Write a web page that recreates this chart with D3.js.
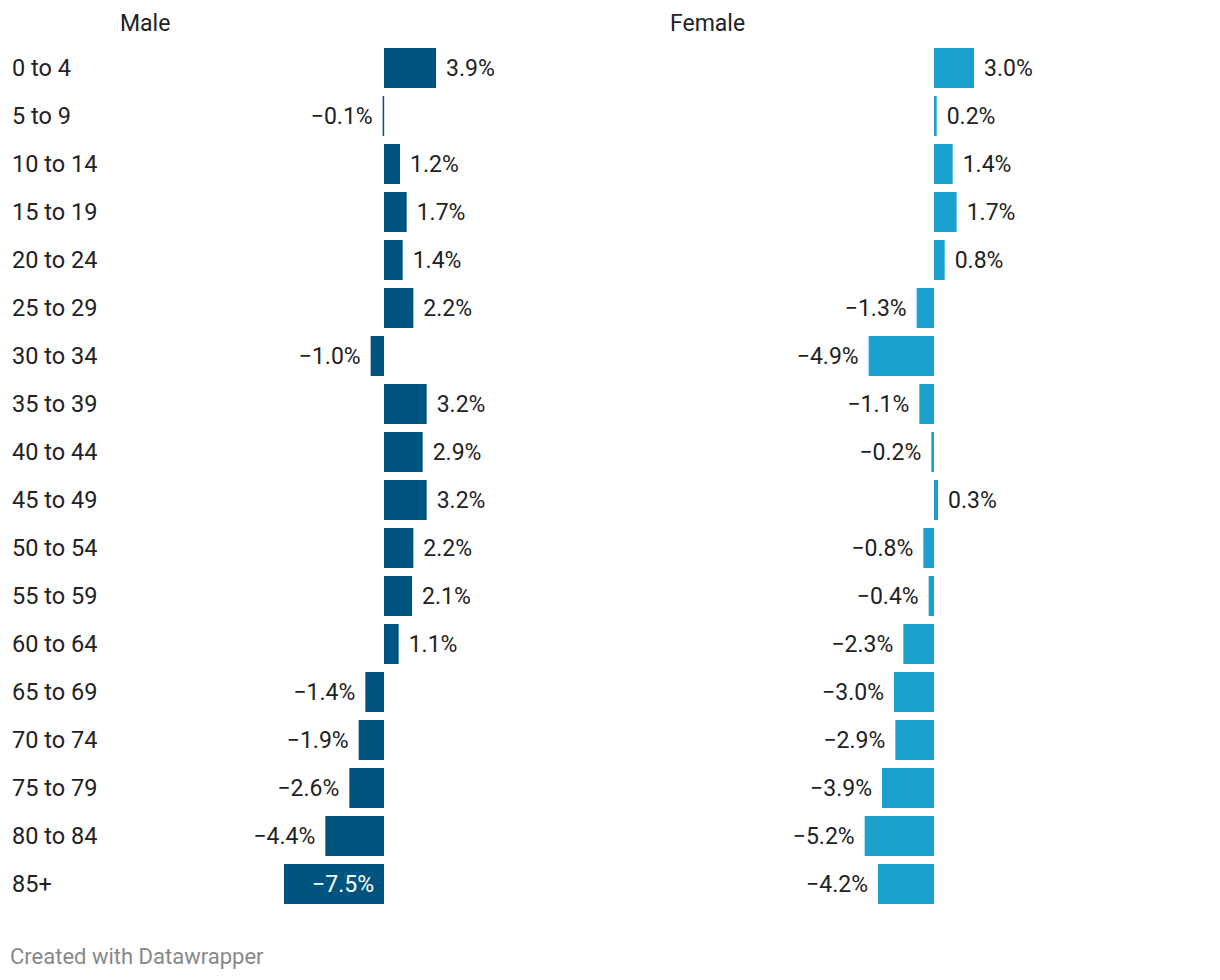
<!DOCTYPE html>
<html><head><meta charset="utf-8">
<script src="https://cdn.jsdelivr.net/npm/d3@7/dist/d3.min.js"></script>
<style>
body{margin:0;background:#fff;}
svg text{font-family:Roboto,"Noto Sans",sans-serif;}
</style></head>
<body><svg id="c" width="1220" height="980"></svg>
<script>
const categories = ["0 to 4","5 to 9","10 to 14","15 to 19","20 to 24","25 to 29","30 to 34","35 to 39","40 to 44","45 to 49","50 to 54","55 to 59","60 to 64","65 to 69","70 to 74","75 to 79","80 to 84","85+"];
const maleValues = [3.9,-0.1,1.2,1.7,1.4,2.2,-1.0,3.2,2.9,3.2,2.2,2.1,1.1,-1.4,-1.9,-2.6,-4.4,-7.5];
const femaleValues = [3.0,0.2,1.4,1.7,0.8,-1.3,-4.9,-1.1,-0.2,0.3,-0.8,-0.4,-2.3,-3.0,-2.9,-3.9,-5.2,-4.2];
const panelTitles = ["Male","Female"];
const colors = ["#005480","#1aa1cd"];

const svg = d3.select("#c");
const y = d3.scaleBand().domain(categories).range([44, 908]).paddingInner(8/48).paddingOuter(4/48);
const fmt = v => (v < 0 ? "\u2212" : "") + Math.abs(v).toFixed(1) + "%";
const FS = 23;

svg.selectAll("text.cat").data(categories).join("text")
  .attr("class","cat").attr("x",12).attr("y",d=>y(d)+y.bandwidth()/2)
  .attr("dy","0.35em").attr("font-size",23.5).attr("fill","#222").text(d=>d);

const panels = [
  {title: panelTitles[0], values: maleValues, color: colors[0], titleX: 120, x: d3.scaleLinear().domain([-7.5,3.9]).range([284,436])},
  {title: panelTitles[1], values: femaleValues, color: colors[1], titleX: 670, x: d3.scaleLinear().domain([-7.5,3.9]).range([834,986])}
];

panels.forEach(p => {
  const g = svg.append("g");
  g.append("text").attr("x",p.titleX).attr("y",31).attr("font-size",FS).attr("fill","#222").text(p.title);
  const x0 = p.x(0);
  g.selectAll("rect").data(p.values).join("rect")
    .attr("x",v=>Math.min(p.x(v),x0)).attr("width",v=>Math.max(1.5,Math.abs(p.x(v)-x0)))
    .attr("y",(v,i)=>y(categories[i])).attr("height",y.bandwidth()).attr("fill",p.color);
  g.selectAll("text.val").data(p.values).join("text").attr("class","val")
    .attr("font-size",FS).attr("dy","0.35em")
    .attr("y",(v,i)=>y(categories[i])+y.bandwidth()/2)
    .each(function(v){
      const t = d3.select(this);
      const inside = Math.abs(p.x(v)-x0) > 90;
      if (v >= 0) { t.attr("x",p.x(v)+10).attr("text-anchor","start").attr("fill","#222"); }
      else if (inside) { t.attr("x",x0-10).attr("text-anchor","end").attr("fill","#fff"); }
      else { t.attr("x",p.x(v)-10).attr("text-anchor","end").attr("fill","#222"); }
    })
    .text(v=>fmt(v));
});

svg.append("text").attr("x",10).attr("y",964).attr("font-size",22).attr("fill","#888").text("Created with Datawrapper");
</script></body></html>
